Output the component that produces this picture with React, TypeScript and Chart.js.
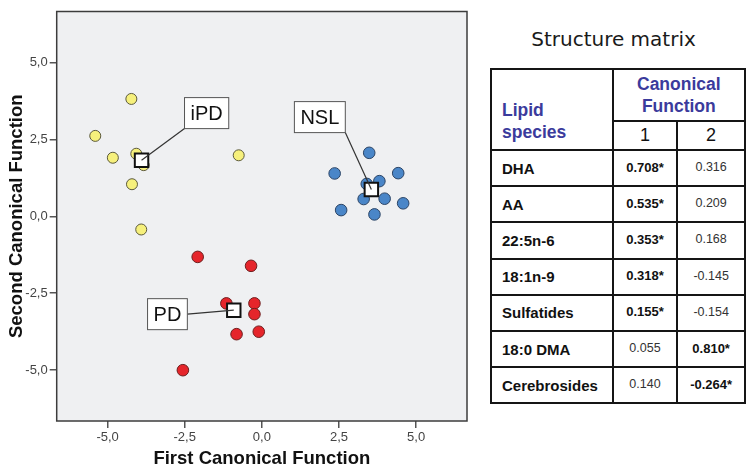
import React, { useEffect, useRef } from 'react';
import { Chart, registerables } from 'chart.js';

Chart.register(...registerables);

// ---------- data ----------
const xTicks = [-5, -2.5, 0, 2.5, 5];
const yTicks = [-5, -2.5, 0, 2.5, 5];

const iPDX = [-4.23, -5.4, -4.83, -4.07, -3.83, -4.21, -3.91, -0.75];
const iPDY = [3.81, 2.61, 1.9, 2.03, 1.66, 1.04, -0.43, 1.98];

const nslX = [3.48, 2.36, 4.42, 3.81, 3.4, 3.3, 3.98, 4.58, 2.57, 3.65];
const nslY = [2.06, 1.39, 1.4, 1.14, 1.05, 0.56, 0.57, 0.42, 0.2, 0.06];

const pdX = [-2.08, -0.35, -1.15, -0.24, -0.24, -0.82, -0.1, -2.56];
const pdY = [-1.32, -1.61, -2.83, -2.83, -3.18, -3.83, -3.75, -5.0];

const groups = ['iPD', 'NSL', 'PD'];
const centroidX = [-3.9, 3.55, -0.91];
const centroidY = [1.82, 0.87, -3.05];

// callout box centres (data units) and the box edge the leader line leaves from
const calloutX = [-1.79, 1.88, -3.06];
const calloutY = [3.35, 3.22, -3.18];
const calloutEdge: [number, number][] = [[-1, 1], [1, 1], [1, 0]];

const lipids = ['DHA', 'AA', '22:5n-6', '18:1n-9', 'Sulfatides', '18:0 DMA', 'Cerebrosides'];
const fn1 = [0.708, 0.535, 0.353, 0.318, 0.155, 0.055, 0.14];
const fn2 = [0.316, 0.209, 0.168, -0.145, -0.154, 0.81, -0.264];
const sig1 = [true, true, true, true, true, false, false];
const sig2 = [false, false, false, false, false, true, true];

const FONT = '"Liberation Sans", Arial, Helvetica, sans-serif';

const fmtTick = (v: any) => Number(v).toFixed(1).replace('.', ',');

function ScatterChart() {
  const ref = useRef<HTMLCanvasElement>(null);
  useEffect(() => {
    const pts = (xs: number[], ys: number[]) => xs.map((x, i) => ({ x, y: ys[i] }));

    const framePlugin = {
      id: 'frame',
      beforeDatasetsDraw(chart: any) {
        const { ctx, chartArea: a } = chart;
        ctx.save();
        ctx.fillStyle = '#eff0f2';
        ctx.fillRect(a.left, a.top, a.right - a.left, a.bottom - a.top);
        ctx.restore();
      },
      afterDatasetsDraw(chart: any) {
        const { ctx, chartArea: a, scales } = chart;
        const xs = scales.x;
        const ys = scales.y;
        ctx.save();
        // callouts
        ctx.font = `20px ${FONT}`;
        groups.forEach((g, i) => {
          const cx = xs.getPixelForValue(centroidX[i]);
          const cy = ys.getPixelForValue(centroidY[i]);
          const bx = xs.getPixelForValue(calloutX[i]);
          const by = ys.getPixelForValue(calloutY[i]);
          const w = ctx.measureText(g).width + 12;
          const h = 31;
          const sx = bx + (calloutEdge[i][0] * w) / 2;
          const sy = by + (calloutEdge[i][1] * h) / 2;
          ctx.strokeStyle = '#333';
          ctx.lineWidth = 1.2;
          ctx.beginPath();
          ctx.moveTo(sx, sy);
          ctx.lineTo(cx, cy);
          ctx.stroke();
          ctx.fillStyle = '#fff';
          ctx.fillRect(bx - w / 2, by - h / 2, w, h);
          ctx.strokeStyle = '#555';
          ctx.lineWidth = 1;
          ctx.strokeRect(bx - w / 2, by - h / 2, w, h);
          ctx.fillStyle = '#111';
          ctx.textAlign = 'center';
          ctx.textBaseline = 'middle';
          ctx.fillText(g, bx, by + 1);
        });
        // frame
        ctx.strokeStyle = '#3c3c3c';
        ctx.lineWidth = 1.5;
        ctx.strokeRect(a.left, a.top, a.right - a.left, a.bottom - a.top);
        ctx.restore();
      },
    };

    const axisCommon = (ticks: number[], title: string, pad: any) => ({
      type: 'linear' as const,
      min: -6.65,
      max: 6.65,
      afterBuildTicks: (s: any) => {
        s.ticks = ticks.map((v) => ({ value: v }));
      },
      grid: {
        drawOnChartArea: false,
        drawTicks: true,
        tickLength: 7,
        color: '#555',
        lineWidth: 1.5,
      },
      border: { display: false },
      ticks: {
        autoSkip: false,
        maxRotation: 0,
        padding: 2,
        color: '#444',
        font: { family: FONT, size: 13 },
        callback: fmtTick,
      },
      title: {
        display: true,
        text: title,
        color: '#111',
        font: { family: FONT, size: 18.5, weight: 'bold' as const },
        padding: pad,
      },
    });

    const chart = new Chart(ref.current!, {
      type: 'scatter',
      data: {
        datasets: [
          {
            label: 'Group centroids',
            data: pts(centroidX, centroidY),
            pointStyle: 'rect',
            pointRadius: 9.5,
            backgroundColor: '#ffffff',
            borderColor: '#111',
            borderWidth: 2,
          },
          {
            label: 'iPD',
            data: pts(iPDX, iPDY),
            pointRadius: 5.5,
            backgroundColor: '#f6f07c',
            borderColor: '#5c5a3c',
            borderWidth: 1,
          },
          {
            label: 'NSL',
            data: pts(nslX, nslY),
            pointRadius: 5.8,
            backgroundColor: '#4a86c8',
            borderColor: '#2c4566',
            borderWidth: 1,
          },
          {
            label: 'PD',
            data: pts(pdX, pdY),
            pointRadius: 5.8,
            backgroundColor: '#e5252b',
            borderColor: '#6e1f1f',
            borderWidth: 1,
          },
        ],
      },
      options: {
        animation: false,
        responsive: false,
        devicePixelRatio: 1,
        layout: { padding: { top: 11, right: 13, left: 0, bottom: 0 } },
        plugins: { legend: { display: false }, tooltip: { enabled: false } },
        scales: {
          x: {
            ...axisCommon(xTicks, 'First Canonical Function', { top: 0, bottom: 5.6 }),
            position: 'bottom',
            afterFit: (s: any) => {
              s.height = 55;
            },
          },
          y: {
            ...axisCommon(yTicks, 'Second Canonical Function', { top: 5.6, bottom: 0 }),
            position: 'left',
            afterFit: (s: any) => {
              s.width = 56.7;
            },
          },
        },
      } as any,
      plugins: [framePlugin],
    });
    return () => chart.destroy();
  }, []);
  return (
    <canvas
      ref={ref}
      width={480}
      height={476}
      style={{ position: 'absolute', left: 0, top: 0, width: 480, height: 476 }}
    />
  );
}

function StructureTable() {
  const blue = '#3b3b9c';
  const cell: React.CSSProperties = {
    background: '#fff',
    display: 'flex',
    alignItems: 'center',
    fontFamily: FONT,
    overflow: 'hidden',
  };
  const valueCell = (v: number, sig: boolean, key: string) => (
    <div
      key={key}
      style={{
        ...cell,
        justifyContent: 'center',
        fontSize: sig ? 13 : 12.5,
        fontWeight: sig ? 'bold' : 'normal',
        color: sig ? '#111' : '#333',
        paddingBottom: 2,
      }}
    >
      {v.toFixed(3) + (sig ? '*' : '')}
    </div>
  );
  return (
    <>
      <div
        style={{
          position: 'absolute',
          left: 480,
          top: 27,
          width: 267,
          textAlign: 'center',
          fontFamily: '"DejaVu Sans", Verdana, sans-serif',
          fontSize: 20,
          lineHeight: '24px',
          color: '#1a1a1a',
        }}
      >
        Structure matrix
      </div>
      <div
        style={{
          position: 'absolute',
          left: 490,
          top: 68,
          display: 'grid',
          gridTemplateColumns: '119.7px 62.6px 65.7px',
          gridTemplateRows: '50px 27px repeat(7, 34.2px)',
          gap: 2,
          padding: 2,
          background: '#151515',
        }}
      >
        <div
          style={{
            ...cell,
            gridRow: '1 / span 2',
            gridColumn: '1',
            alignItems: 'flex-end',
            padding: '0 0 6px 10px',
            color: blue,
            fontWeight: 'bold',
            fontSize: 17.5,
            lineHeight: '22px',
          }}
        >
          Lipid
          <br />
          species
        </div>
        <div
          style={{
            ...cell,
            gridRow: '1',
            gridColumn: '2 / span 2',
            justifyContent: 'center',
            textAlign: 'center',
            color: blue,
            fontWeight: 'bold',
            fontSize: 17.5,
            lineHeight: '22px',
          }}
        >
          Canonical
          <br />
          Function
        </div>
        <div style={{ ...cell, gridRow: '2', gridColumn: '2', justifyContent: 'center', fontSize: 18, color: '#111' }}>
          1
        </div>
        <div style={{ ...cell, gridRow: '2', gridColumn: '3', justifyContent: 'center', fontSize: 18, color: '#111' }}>
          2
        </div>
        {lipids.map((name, i) => [
          <div
            key={'n' + i}
            style={{ ...cell, paddingLeft: 10, fontWeight: 'bold', fontSize: 15, color: '#111' }}
          >
            {name}
          </div>,
          valueCell(fn1[i], sig1[i], 'a' + i),
          valueCell(fn2[i], sig2[i], 'b' + i),
        ])}
      </div>
    </>
  );
}

export default function App() {
  return (
    <div
      style={{
        position: 'absolute',
        left: 0,
        top: 0,
        width: 755,
        height: 476,
        overflow: 'hidden',
        background: '#fff',
      }}
    >
      <ScatterChart />
      <StructureTable />
    </div>
  );
}
